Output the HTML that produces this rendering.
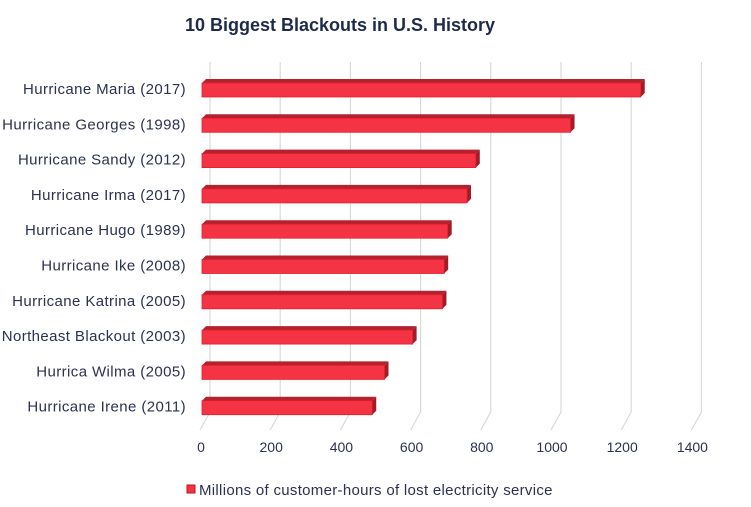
<!DOCTYPE html>
<html><head><meta charset="utf-8"><style>
body{margin:0;background:#fff;}
svg{display:block;font-family:"Liberation Sans",sans-serif;}
</style></head><body>
<svg id="c" width="751" height="507">
<text x="340" y="31" text-anchor="middle" font-size="18" font-weight="bold" fill="#1f2a4a">10 Biggest Blackouts in U.S. History</text>
<g id="grid"></g>
<g id="bars"></g>
<g id="ylab"></g>
<g id="xlab"></g>
<g>
<rect x="187" y="485" width="8" height="8" fill="#f23343" stroke="#c8101e" stroke-width="1"/>
<text x="199" y="495" font-size="15" letter-spacing="0.3" fill="#2b3150">Millions of customer-hours of lost electricity service</text>
</g>
</svg>
<script>
const categories=["Hurricane Maria (2017)","Hurricane Georges (1998)","Hurricane Sandy (2012)","Hurricane Irma (2017)","Hurricane Hugo (1989)","Hurricane Ike (2008)","Hurricane Katrina (2005)","Northeast Blackout (2003)","Hurrica Wilma (2005)","Hurricane Irene (2011)"];
const values=[1250,1050,780,755,700,690,685,600,520,485];
const ticks=[0,200,400,600,800,1000,1200,1400];
const NS="http://www.w3.org/2000/svg";
const x0=202,scale=0.351,backX0=210;
const xF=v=>x0+v*scale, xB=v=>backX0+v*scale;
const yC=i=>89+i*35.3;
function mk(t,a,p){const e=document.createElementNS(NS,t);for(const k in a)e.setAttribute(k,a[k]);p.appendChild(e);return e;}
const grid=document.getElementById('grid'),bars=document.getElementById('bars'),yl=document.getElementById('ylab'),xl=document.getElementById('xlab');
ticks.forEach(t=>{
  const g=mk('path',{d:`M${xB(t)},62 V412 L${xB(t)-10},430`,stroke:'#d9d9d9','stroke-width':1.2,fill:'none'},grid);
  
  
  const l=mk('text',{x:xF(t)-1,y:452,'text-anchor':'middle','font-size':14,fill:'#2b3150'},xl);
  l.textContent=t;
  
  
});
categories.forEach((c,i)=>{
  const y=yC(i),x1=xF(values[i]),h=14,d=4;
  const top=y-h/2+1;
  const g=mk('g',{},bars);
  
  
  mk('path',{d:`M${x0},${top} L${x0+d},${top-d} L${x1+d},${top-d} L${x1},${top} Z`,fill:'#b3222d'},g);
  mk('path',{d:`M${x1},${top} L${x1+d},${top-d} L${x1+d},${top+h-d} L${x1},${top+h} Z`,fill:'#a01c26'},g);
  mk('rect',{x:x0,y:top,width:x1-x0,height:h,fill:'#f43444',stroke:'#e81c2c','stroke-width':0.8},g);
  const t=mk('text',{x:186,y:y+5,'text-anchor':'end','font-size':15,'letter-spacing':0.4,fill:'#2b3150'},yl);
  t.textContent=c;
  
  
});
</script>
</body></html>
